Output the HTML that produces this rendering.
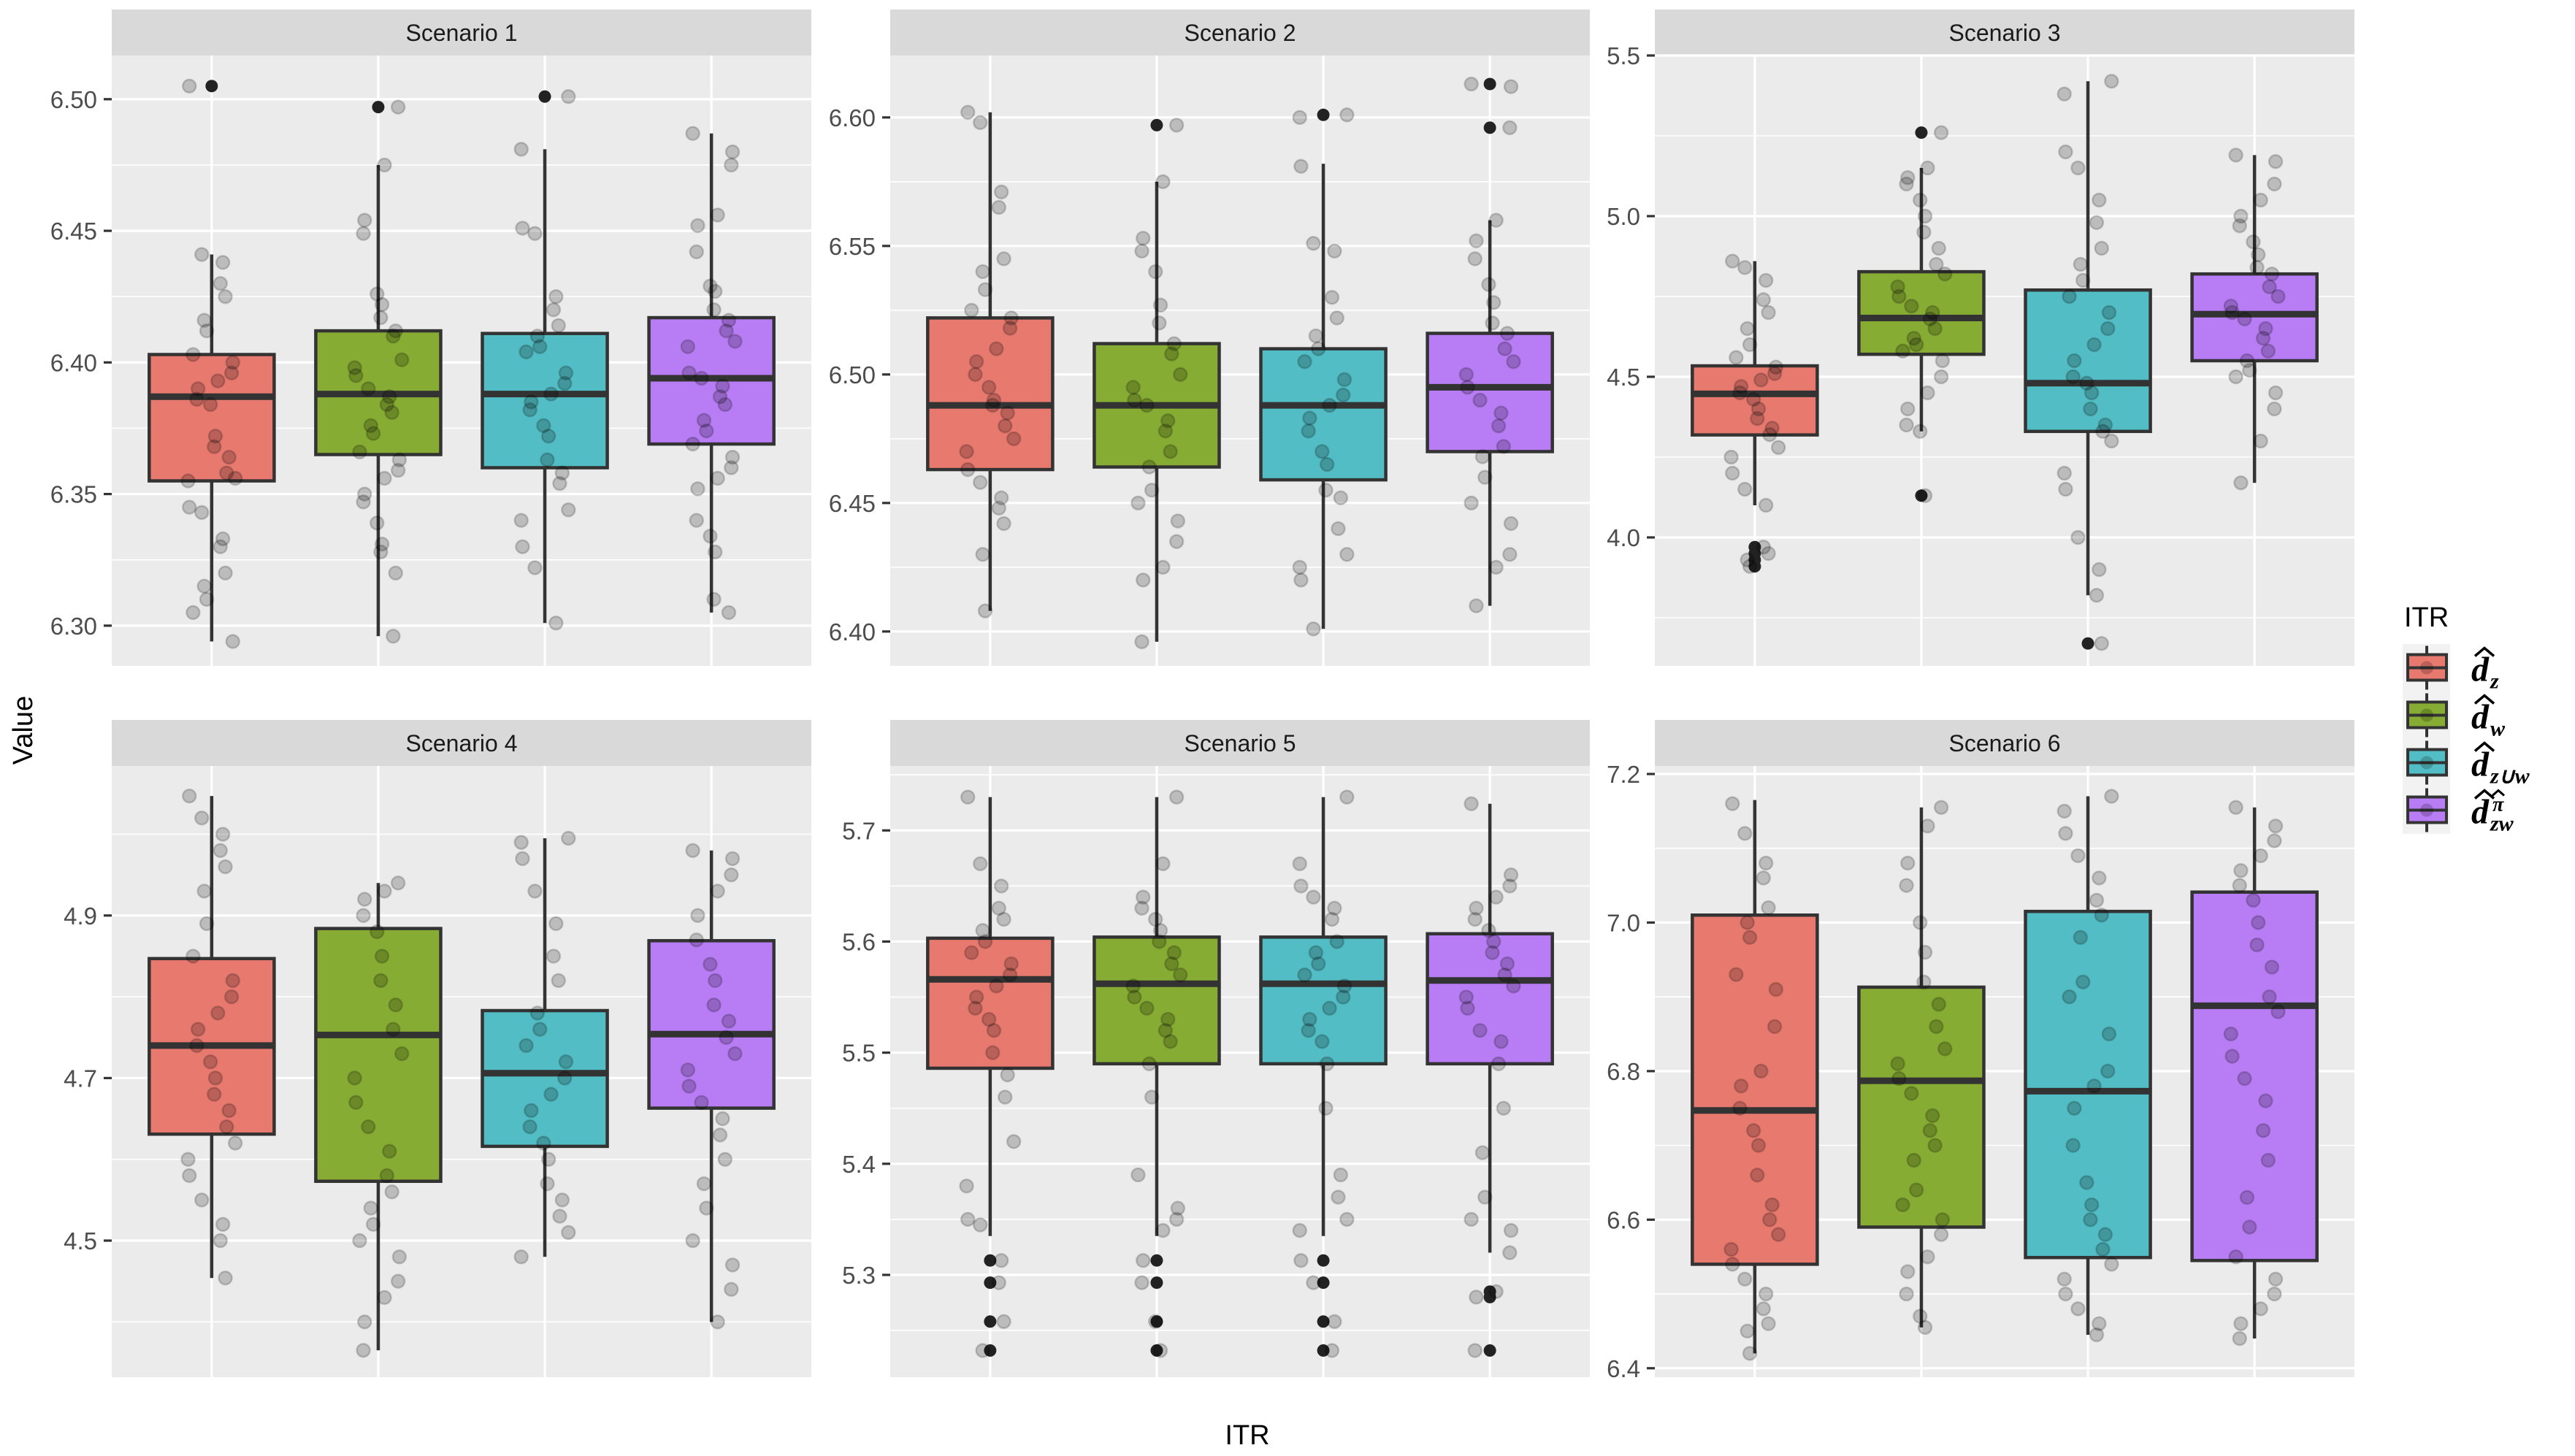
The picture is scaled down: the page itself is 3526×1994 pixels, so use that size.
<!DOCTYPE html>
<html><head><meta charset="utf-8"><style>
html,body{margin:0;padding:0;background:#fff;}
svg{display:block;}
</style></head><body>
<svg id="chart" width="3526" height="1994" viewBox="0 0 3526 1994" xmlns="http://www.w3.org/2000/svg" font-family="Liberation Sans, sans-serif"></svg>
<script>
const scenarios = ["Scenario 1","Scenario 2","Scenario 3","Scenario 4","Scenario 5","Scenario 6"];
const categories = ["d_z","d_w","d_zuw","d_zw_pi"];
const yDomains = [[6.2847,6.5166],[6.3866,6.6241],[3.6,5.5],[4.332,5.084],[5.208,5.758],[6.388,7.2108]];
const yTicks = [[6.30,6.35,6.40,6.45,6.50],[6.40,6.45,6.50,6.55,6.60],[4.0,4.5,5.0,5.5],[4.5,4.7,4.9],[5.3,5.4,5.5,5.6,5.7],[6.4,6.6,6.8,7.0,7.2]];
const yTickLabels = [["6.30","6.35","6.40","6.45","6.50"],["6.40","6.45","6.50","6.55","6.60"],["4.0","4.5","5.0","5.5"],["4.5","4.7","4.9"],["5.3","5.4","5.5","5.6","5.7"],["6.4","6.6","6.8","7.0","7.2"]];
const q1s = [[6.355,6.365,6.360,6.369],[6.463,6.464,6.459,6.470],[4.319,4.570,4.33,4.55],[4.631,4.573,4.616,4.663],[5.486,5.49,5.49,5.49],[6.54,6.59,6.549,6.545]];
const medians = [[6.387,6.388,6.388,6.394],[6.488,6.488,6.488,6.495],[4.447,4.683,4.48,4.695],[4.74,4.753,4.706,4.754],[5.566,5.562,5.562,5.565],[6.747,6.787,6.773,6.888]];
const q3s = [[6.403,6.412,6.411,6.417],[6.522,6.512,6.510,6.516],[4.534,4.827,4.77,4.82],[4.847,4.884,4.783,4.869],[5.603,5.604,5.604,5.607],[7.01,6.913,7.015,7.041]];
const whiskLo = [[6.294,6.296,6.301,6.305],[6.408,6.396,6.401,6.410],[4.10,4.33,3.82,4.17],[4.454,4.365,4.48,4.40],[5.335,5.335,5.335,5.32],[6.42,6.455,6.445,6.44]];
const whiskHi = [[6.441,6.475,6.481,6.487],[6.602,6.575,6.582,6.560],[4.86,5.15,5.42,5.19],[5.047,4.94,4.995,4.98],[5.73,5.73,5.73,5.724],[7.165,7.155,7.17,7.155]];
const outliers = [
 [[6.505],[6.497],[6.501],[]],
 [[],[6.597],[6.601],[6.613,6.596]],
 [[3.97,3.95,3.93,3.91],[5.26,4.13],[3.67],[]],
 [[],[],[],[]],
 [[5.313,5.293,5.258,5.232],[5.313,5.293,5.258,5.232],[5.313,5.293,5.258,5.232],[5.285,5.28,5.232]],
 [[],[],[],[]]
];
const points = [
 [[6.505,6.441,6.438,6.430,6.425,6.416,6.412,6.403,6.400,6.396,6.393,6.390,6.386,6.384,6.372,6.368,6.364,6.358,6.356,6.355,6.345,6.343,6.333,6.330,6.320,6.315,6.310,6.305,6.294],
  [6.497,6.475,6.454,6.449,6.426,6.422,6.417,6.412,6.410,6.401,6.398,6.395,6.390,6.387,6.384,6.381,6.376,6.373,6.366,6.363,6.359,6.356,6.350,6.347,6.339,6.331,6.328,6.320,6.296],
  [6.501,6.481,6.451,6.449,6.425,6.420,6.414,6.410,6.406,6.404,6.396,6.392,6.388,6.385,6.382,6.376,6.372,6.363,6.358,6.354,6.344,6.340,6.330,6.322,6.301],
  [6.487,6.480,6.475,6.456,6.452,6.442,6.429,6.427,6.420,6.416,6.412,6.408,6.406,6.396,6.394,6.391,6.387,6.384,6.378,6.374,6.369,6.364,6.360,6.356,6.352,6.340,6.334,6.328,6.310,6.305]],
 [[6.602,6.598,6.571,6.565,6.545,6.540,6.533,6.525,6.522,6.518,6.510,6.505,6.500,6.495,6.490,6.488,6.485,6.480,6.475,6.470,6.463,6.458,6.452,6.448,6.442,6.430,6.408],
  [6.597,6.575,6.553,6.548,6.540,6.527,6.520,6.512,6.508,6.500,6.495,6.490,6.488,6.482,6.478,6.470,6.464,6.455,6.450,6.443,6.435,6.425,6.420,6.396],
  [6.601,6.600,6.581,6.551,6.548,6.530,6.522,6.515,6.510,6.505,6.498,6.492,6.488,6.483,6.478,6.470,6.465,6.455,6.452,6.440,6.430,6.425,6.420,6.401],
  [6.613,6.612,6.596,6.560,6.552,6.545,6.535,6.528,6.520,6.516,6.510,6.505,6.500,6.495,6.490,6.485,6.480,6.472,6.468,6.460,6.450,6.442,6.430,6.425,6.410]],
 [[4.86,4.84,4.80,4.74,4.70,4.65,4.60,4.56,4.53,4.51,4.49,4.47,4.45,4.43,4.40,4.37,4.34,4.32,4.28,4.25,4.20,4.15,4.10,3.97,3.95,3.93,3.91],
  [5.26,5.15,5.12,5.10,5.05,5.00,4.95,4.90,4.85,4.82,4.78,4.75,4.72,4.70,4.68,4.65,4.62,4.60,4.58,4.55,4.50,4.45,4.40,4.35,4.33,4.13],
  [5.42,5.38,5.20,5.15,5.05,4.98,4.90,4.85,4.80,4.75,4.70,4.65,4.60,4.55,4.50,4.48,4.45,4.40,4.35,4.33,4.30,4.20,4.15,4.00,3.90,3.82,3.67],
  [5.19,5.17,5.10,5.05,5.00,4.97,4.92,4.88,4.84,4.82,4.78,4.75,4.72,4.70,4.68,4.65,4.62,4.58,4.55,4.52,4.50,4.45,4.40,4.30,4.17]],
 [[5.047,5.02,5.00,4.98,4.96,4.93,4.89,4.85,4.82,4.80,4.78,4.76,4.74,4.72,4.70,4.68,4.66,4.64,4.62,4.60,4.58,4.55,4.52,4.50,4.454],
  [4.94,4.93,4.92,4.90,4.88,4.85,4.82,4.79,4.76,4.73,4.70,4.67,4.64,4.61,4.58,4.56,4.54,4.52,4.50,4.48,4.45,4.43,4.40,4.365],
  [4.995,4.99,4.97,4.93,4.89,4.85,4.82,4.78,4.76,4.74,4.72,4.70,4.68,4.66,4.64,4.62,4.60,4.57,4.55,4.53,4.51,4.48],
  [4.98,4.97,4.95,4.93,4.90,4.87,4.84,4.82,4.79,4.77,4.75,4.73,4.71,4.69,4.67,4.65,4.63,4.60,4.57,4.54,4.50,4.47,4.44,4.40]],
 [[5.73,5.67,5.65,5.63,5.62,5.61,5.60,5.59,5.58,5.57,5.56,5.55,5.54,5.53,5.52,5.50,5.48,5.46,5.42,5.38,5.35,5.345,5.313,5.293,5.258,5.232],
  [5.73,5.67,5.64,5.63,5.62,5.61,5.60,5.59,5.58,5.57,5.56,5.55,5.54,5.53,5.52,5.51,5.49,5.46,5.39,5.36,5.35,5.34,5.313,5.293,5.258,5.232],
  [5.73,5.67,5.65,5.64,5.63,5.62,5.60,5.59,5.58,5.57,5.56,5.55,5.54,5.53,5.52,5.51,5.49,5.45,5.39,5.37,5.35,5.34,5.313,5.293,5.258,5.232],
  [5.724,5.66,5.65,5.64,5.63,5.62,5.61,5.60,5.59,5.58,5.57,5.56,5.55,5.54,5.52,5.51,5.49,5.45,5.41,5.37,5.35,5.34,5.32,5.285,5.28,5.232]],
 [[7.16,7.12,7.08,7.06,7.02,7.00,6.98,6.93,6.91,6.86,6.80,6.78,6.75,6.72,6.70,6.66,6.62,6.60,6.58,6.56,6.54,6.52,6.50,6.48,6.46,6.45,6.42],
  [7.155,7.13,7.08,7.05,7.00,6.96,6.92,6.89,6.86,6.83,6.81,6.79,6.77,6.74,6.72,6.70,6.68,6.64,6.62,6.60,6.58,6.55,6.53,6.50,6.47,6.455],
  [7.17,7.15,7.12,7.09,7.06,7.03,7.01,6.98,6.92,6.90,6.85,6.80,6.78,6.75,6.70,6.65,6.62,6.60,6.58,6.56,6.54,6.52,6.50,6.48,6.46,6.445],
  [7.155,7.13,7.11,7.09,7.07,7.05,7.03,7.00,6.97,6.94,6.90,6.88,6.85,6.82,6.79,6.76,6.72,6.68,6.63,6.59,6.55,6.52,6.50,6.48,6.46,6.44]]
];

const NS = "http://www.w3.org/2000/svg";
const svg = document.getElementById("chart");
const fills = ["#E8796F","#87AC33","#52BDC4","#B87DF5"];
const colLeft = [153,1219,2266], PW = 958;
const stripTop = [13,986], panelTop = [76,1049], panelBot = [912,1886];
const jit = [-0.9,0.35,-0.2,0.8,-0.6,0.1,0.95,-0.4,0.55,-0.75,0.25,-0.05,0.7,-0.95,0.45,-0.3,0.85,-0.55,0.15,0.6];
function mk(tag, attrs, parent){ const e=document.createElementNS(NS,tag); for(const k in attrs) e.setAttribute(k,attrs[k]); (parent||svg).appendChild(e); return e; }

for (let p=0;p<6;p++){
  const col=p%3, row=Math.floor(p/3);
  const L=colLeft[col], T=panelTop[row], B=panelBot[row];
  const [d0,d1]=yDomains[p];
  const y = v => B - (v-d0)/(d1-d0)*(B-T);
  const x = i => L + (i+1-0.4)/4.2*PW;
  const bw = 0.75/4.2*PW;
  const g = mk("g",{});
  
  
  const strip = mk("rect",{x:L,y:stripTop[row],width:PW,height:T-stripTop[row],fill:"#D9D9D9"},g);
  
  
  const st = mk("text",{x:L+PW/2,y:stripTop[row]+43,"text-anchor":"middle","font-size":"32",fill:"#1A1A1A"},g);
  st.textContent=scenarios[p];
  
  
  const bg = mk("rect",{x:L,y:T,width:PW,height:B-T,fill:"#EBEBEB"},g);
  
  
  const tks=yTicks[p], step=tks[1]-tks[0];
  for(let k=-1;k<tks.length;k++){
    const mv=tks[0]+(k+0.5)*step;
    if(mv>d0 && mv<d1){ const ml=mk("line",{x1:L,x2:L+PW,y1:y(mv),y2:y(mv),stroke:"#fff","stroke-width":"1.6"},g);
        }
  }
  tks.forEach((t,k)=>{
    const gl=mk("line",{x1:L,x2:L+PW,y1:y(t),y2:y(t),stroke:"#fff","stroke-width":"3.2"},g);
    
    
    const tm=mk("line",{x1:L-11,x2:L,y1:y(t),y2:y(t),stroke:"#333","stroke-width":"3.2"},g);
    
    
    const tl=mk("text",{x:L-20,y:y(t)+12,"text-anchor":"end","font-size":"33",fill:"#4D4D4D"},g);
    tl.textContent=yTickLabels[p][k];
    
    
  });
  for(let i=0;i<4;i++){
    const vl=mk("line",{x1:x(i),x2:x(i),y1:T,y2:B,stroke:"#fff","stroke-width":"3.2"},g);
    
    
  }
  for(let i=0;i<4;i++){
    const bx=mk("g",{},g);
    
    
    const cx=x(i);
    mk("line",{x1:cx,x2:cx,y1:y(whiskHi[p][i]),y2:y(q3s[p][i]),stroke:"#333","stroke-width":"4.5"},bx);
    mk("line",{x1:cx,x2:cx,y1:y(q1s[p][i]),y2:y(whiskLo[p][i]),stroke:"#333","stroke-width":"4.5"},bx);
    mk("rect",{x:cx-bw/2,y:y(q3s[p][i]),width:bw,height:y(q1s[p][i])-y(q3s[p][i]),fill:fills[i],stroke:"#333","stroke-width":"4.5"},bx);
    mk("line",{x1:cx-bw/2,x2:cx+bw/2,y1:y(medians[p][i]),y2:y(medians[p][i]),stroke:"#333","stroke-width":"9"},bx);
    outliers[p][i].forEach(v=>{
      const o=mk("circle",{cx:cx,cy:y(v),r:"8.5",fill:"#222"},bx);
      
      
    });
  }
  for(let i=0;i<4;i++){
    points[p][i].forEach((v,k)=>{
      const c=mk("circle",{cx:x(i)+jit[(k*7+i*3)%20]*34,cy:y(v),r:"9",fill:"rgba(0,0,0,0.2)",stroke:"rgba(0,0,0,0.18)","stroke-width":"2.5"},g);
      
      
    });
  }
}
const yt=mk("text",{x:0,y:0,transform:"translate(44,1000) rotate(-90)","text-anchor":"middle","font-size":"38",fill:"#000"});
yt.textContent="Value";


const xt=mk("text",{x:1708,y:1978,"text-anchor":"middle","font-size":"38",fill:"#000"});
xt.textContent="ITR";


const lg=mk("g",{});


const ltit=mk("text",{x:3292,y:858,"font-size":"38",fill:"#000"},lg);
ltit.textContent="ITR";


mk("rect",{x:3290,y:882,width:65,height:260,fill:"#F2F2F2"},lg);
const subs=["z","w","z\u222Aw","zw"];
for(let i=0;i<4;i++){
  const cy=914.5+65*i;
  const e=mk("g",{},lg);
  
  
  mk("line",{x1:3323,x2:3323,y1:cy-30,y2:cy+30,stroke:"#333","stroke-width":"4"},e);
  mk("rect",{x:3297,y:cy-18,width:53,height:35,fill:fills[i],stroke:"#333","stroke-width":"4"},e);
  mk("line",{x1:3297,x2:3350,y1:cy,y2:cy,stroke:"#333","stroke-width":"4"},e);
  mk("circle",{cx:3323,cy:cy,r:"9",fill:"rgba(0,0,0,0.2)"},e);
  const d=mk("text",{x:3384,y:cy+18,"font-family":"Liberation Serif, serif","font-size":"48","font-weight":"bold","font-style":"italic",fill:"#000"},e);
  d.textContent="d";
  mk("path",{d:`M ${3389} ${cy-16} L ${3402} ${cy-27} L ${3415} ${cy-16}`,fill:"none",stroke:"#000","stroke-width":"3.5"},e);
  const s=mk("text",{x:3410,y:cy+28,"font-family":"Liberation Serif, serif","font-size":"30","font-weight":"bold","font-style":"italic",fill:"#000"},e);
  s.textContent=subs[i];
  if(i===3){
    const pi=mk("text",{x:3413,y:cy+1,"font-family":"Liberation Serif, serif","font-size":"28","font-weight":"bold","font-style":"italic",fill:"#000"},e);
    pi.textContent="\u03C0";
    mk("path",{d:`M ${3413} ${cy-20} L ${3421} ${cy-27} L ${3429} ${cy-20}`,fill:"none",stroke:"#000","stroke-width":"3"},e);
  }
}
</script>
</body></html>
